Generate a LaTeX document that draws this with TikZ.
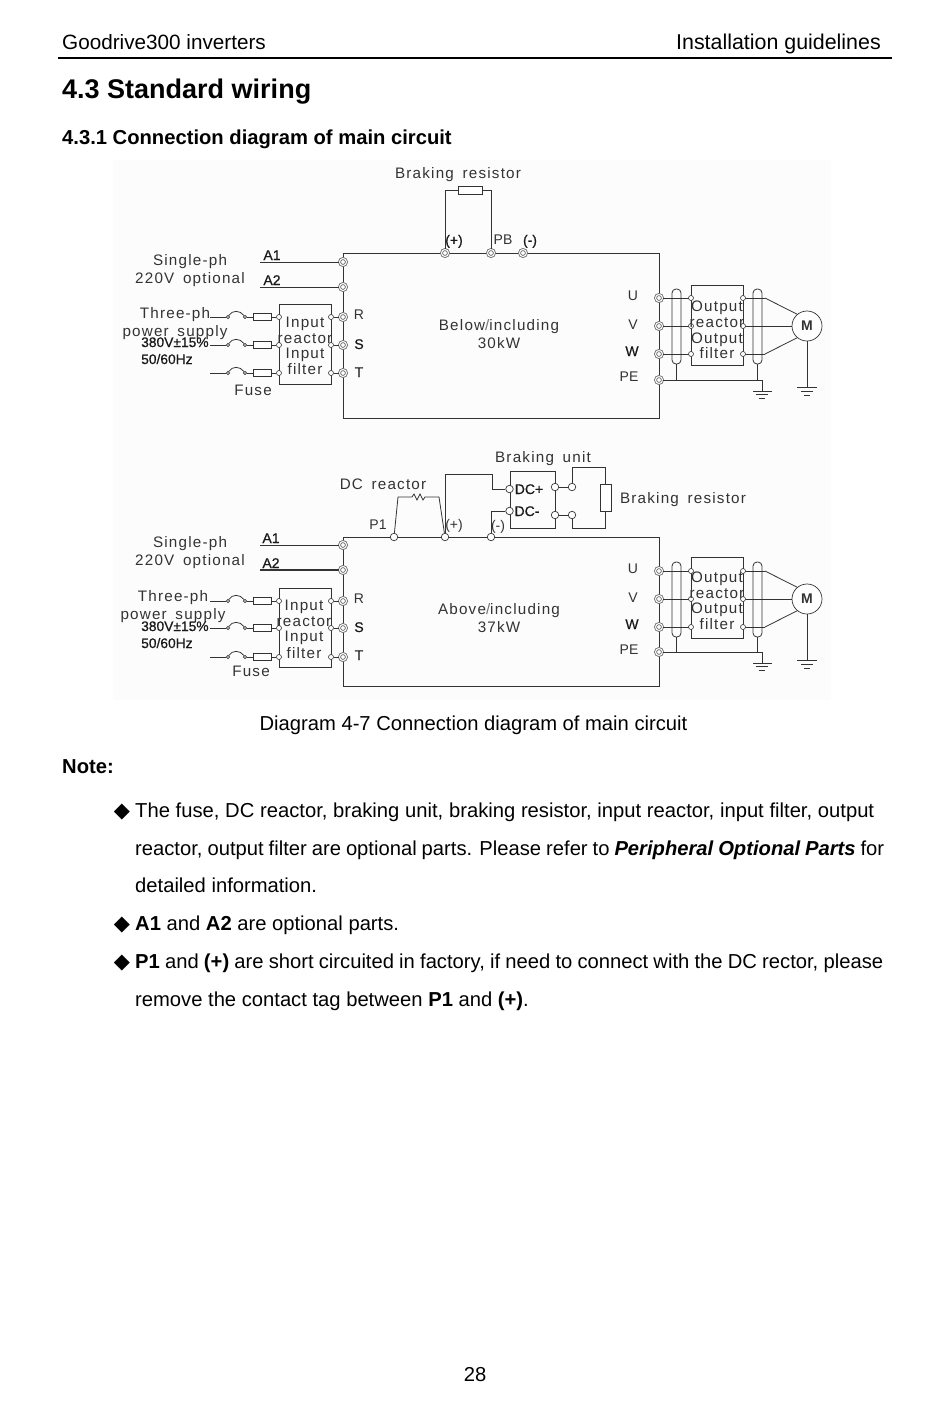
\documentclass[tikz,border=0pt]{standalone}
\usepackage{fontspec}
\setmainfont{Liberation Sans}
\newfontfamily\dgf[LetterSpace=8,WordSpace=1.6]{Liberation Sans}
\newfontfamily\fbf[FakeBold=0.6]{Liberation Sans}
\newfontfamily\symf{DejaVu Sans}
\definecolor{ink}{gray}{0.2}
\definecolor{ring}{gray}{0.45}
\tikzset{
 wire/.style={draw=ink,line width=0.8pt},
 heavy/.style={draw=ink,line width=1.2pt},
 lab/.style={inner sep=0pt,text height=10.5pt,text depth=0pt,anchor=center,text=ink,font=\dgf\fontsize{15.2}{15}\selectfont},
 slab/.style={inner sep=0pt,text height=10pt,text depth=0pt,anchor=center,text=ink,font=\fontsize{14}{14}\selectfont},
 blab/.style={inner sep=0pt,text height=10pt,text depth=0pt,anchor=center,text=black!90,font=\fbf\fontsize{14}{14}\selectfont},
 vlab/.style={inner sep=0pt,text height=10pt,text depth=0pt,anchor=west,text=black!90,font=\fbf\fontsize{13.8}{14}\selectfont},
 page/.style={inner sep=0pt,anchor=base west,text=black,font=\fontsize{20.2}{20.5}\selectfont},
 term/.style={circle,draw=ring,line width=0.9pt,fill=white,double=white,minimum size=7pt,inner sep=0pt,double distance=1pt},
 port/.style={circle,draw=ink,line width=0.6pt,fill=white,minimum size=3.2pt,inner sep=0pt},
 boxport/.style={circle,draw=ink,line width=0.6pt,fill=white,minimum size=5pt,inner sep=0pt},
 bigport/.style={circle,draw=ink,line width=0.7pt,fill=white,minimum size=7.5pt,inner sep=0pt},
 fusebody/.style={rectangle,draw=ink,line width=0.8pt,fill=white,minimum width=18pt,minimum height=7pt,inner sep=0pt},
 bx/.style={rectangle,draw=ink,line width=0.9pt,inner sep=0pt},
 motor/.style={circle,draw=ink,line width=0.7pt,fill=white,minimum size=30pt,inner sep=0pt,font=\fontsize{14}{14}\selectfont\bfseries,text=ink},
 bul/.style={page,anchor=base,font=\symf\fontsize{21}{21}\selectfont},
}
\newcommand\InputPart[6]{%
 \node[bx,minimum width=52pt,minimum height=#6pt] (ib#1) at (305,#5) {};
 \foreach \n/\y in {R/#2,S/#3,T/#4}{%
  \node[port] (fa#1\n) at (228,\y) {};
  \node[port] (fb#1\n) at (245,\y) {};
  \node[fusebody] (fr#1\n) at (262.5,\y) {};
  \node[boxport] (il#1\n) at (279,\y) {};
  \node[boxport] (ir#1\n) at (331,\y) {};
  \coordinate (s#1\n) at (210,\y);
  \draw[wire] (s#1\n) -- (fa#1\n);
  \draw[wire] (fa#1\n) .. controls +(4,-7) and +(-5,-7) .. (fb#1\n);
  \draw[wire] (fb#1\n) -- (fr#1\n);
  \draw[wire] (fr#1\n) -- (il#1\n);
  \draw[wire] (ir#1\n) -- (t#1\n);
 }%
}
\newcommand\OutputPart[9]{%
 \node[bx,minimum width=52pt,minimum height={(#7-#6)*1pt}] (ob#1) at (717,{(#6+#7)/2}) {};
 \node[motor] (m#1) at (807,#3) {M};
 \foreach \n/\y in {U/#2,V/#3,W/#4}{%
  \coordinate (j#1\n) at (765,\y);
  \draw[wire] (t#1\n) -- (691,\y);
  \draw[wire] (743,\y) -- (j#1\n);
  \node[boxport] (ol#1\n) at (691,\y) {};
  \node[boxport] (or#1\n) at (743,\y) {};
 }%
 \draw[wire] (j#1U) -- (m#1.130);
 \draw[wire] (j#1V) -- (m#1);
 \draw[wire] (j#1W) -- (m#1.230);
 \draw[wire,rounded corners=4pt] (672,#8) rectangle (681,#9);
 \draw[wire,rounded corners=4pt] (753,#8) rectangle (762,#9);
 \coordinate (gnd#1) at (762,{#5+11});
 \coordinate (pe#1) at (762,#5);
 \draw[wire] (t#1PE) -- (pe#1) -- (gnd#1);
 \draw[wire] (676.5,#9) -- (676.5,#5);
 \draw[wire] (757.5,#9) -- (757.5,#5);
 \draw[wire] (753,{#5+11}) -- (772,{#5+11});
 \draw[wire] (756,{#5+14}) -- (768,{#5+14});
 \draw[wire] (759,{#5+18}) -- (765,{#5+18});
 \coordinate (mg#1) at (807,{#3+61});
 \draw[wire] (m#1) -- (mg#1);
 \draw[wire] (797,{#3+61}) -- (817,{#3+61});
 \draw[wire] (801,{#3+65}) -- (813,{#3+65});
 \draw[wire] (804,{#3+69}) -- (810,{#3+69});
}
\begin{document}
\begin{tikzpicture}[x=1pt,y=-1pt]
\useasboundingbox (0,0) rectangle (950,1422);
\fill[white] (0,0) rectangle (950,1422);
\fill[black!1] (113,160) rectangle (831,700);
\node[page,font=\fontsize{20.7}{21}\selectfont] (hdl) at (62,49) {Goodrive300 inverters};
\node[page,anchor=base east,font=\fontsize{21.4}{21}\selectfont] (hdr) at (881,49) {Installation guidelines};
\coordinate (rl) at (58,58); \coordinate (rr) at (892,58);
\draw[black,line width=2pt] (rl) -- (rr);
\node[page,font=\fontsize{27}{28}\selectfont\bfseries] (h1) at (62,98) {4.3 Standard wiring};
\node[page,font=\fontsize{20.2}{21}\selectfont\bfseries] (h2) at (62,144) {4.3.1 Connection diagram of main circuit};
\node[page,anchor=base] (cap) at (473.5,730) {Diagram 4-7 Connection diagram of main circuit};
\node[page,font=\fontsize{20.2}{21}\selectfont\bfseries] (note) at (62,773) {Note:};
\node[bul] (b1) at (122,817.5) {◆};
\node[bul] (b2) at (122,930.5) {◆};
\node[bul] (b3) at (122,968.5) {◆};
\node[page] (l1) at (135,817) {\makebox[739pt][s]{The fuse, DC reactor, braking unit, braking resistor, input reactor, input filter, output}};
\node[page] (l2) at (135,855) {\makebox[749pt][s]{reactor, output filter are optional parts. Please refer to \textbf{\textit{Peripheral Optional Parts}} for}};
\node[page] (l3) at (135,892) {detailed information.};
\node[page] (l4) at (135,930) {\textbf{A1} and \textbf{A2} are optional parts.};
\node[page] (l5) at (135,968) {\makebox[748pt][s]{\textbf{P1} and \textbf{(+)} are short circuited in factory, if need to connect with the DC rector, please}};
\node[page] (l6) at (135,1006) {remove the contact tag between \textbf{P1} and \textbf{(+)}.};
\node[page,anchor=base] (pn) at (475,1381) {28};

\coordinate (TL) at (343,253); \coordinate (TR) at (659,253);
\coordinate (BL) at (343,418); \coordinate (BR) at (659,418);
\draw[wire,line width=1pt] (TL) -- (TR) -- (BR) -- (BL) -- cycle;
\node[term] (taA1) at (343,262) {};
\node[term] (taA2) at (343,287) {};
\node[term] (taR) at (343,317) {};
\node[term] (taS) at (343,345) {};
\node[term] (taT) at (343,373) {};
\node[term] (taP) at (445,253) {};
\node[term] (taB) at (491,253) {};
\node[term] (taN) at (523,253) {};
\node[term] (taU) at (659,298) {};
\node[term] (taV) at (659,326) {};
\node[term] (taW) at (659,354) {};
\node[term] (taPE) at (659,380) {};
\coordinate (aa1) at (260,262); \coordinate (aa2) at (260,287);
\draw[wire] (aa1) -- (taA1);
\draw[wire] (aa2) -- (taA2);
\node[fusebody,minimum width=24pt,minimum height=8pt] (brA) at (470,190) {};
\draw[wire] (taP) |- (brA);
\draw[wire] (taB) |- (brA);
\InputPart{a}{317}{345}{373}{344}{80}
\OutputPart{a}{298}{326}{354}{380}{285}{365}{289}{364}
\foreach \nm/\tx/\x/\y in {
 a1/Braking resistor/458/173,
 a2/Single-ph/190/260, a3/220V optional/190/278,
 a4/Three-ph/175/313, a5/power supply/175/331,
 a6/Fuse/253/390,
 a7/Input/305/322, a8/reactor/305/338, a9/Input/305/353, a10/filter/305/369,
 a11/Below{\color{black!55}/}including/499/325, a12/30kW/499/343,
 a13/Output/717/306, a14/reactor/717/322, a15/Output/717/338, a16/filter/717/353}
 {\node[lab] (\nm) at (\x,\y) {\tx};}
\foreach \nm/\tx/\x/\y in {
 a22/R/359/314, a26/PB/503/239, a28/U/633/295, a29/V/633/324, a31/PE/629/376}
 {\node[slab] (\nm) at (\x,\y) {\tx};}
\foreach \nm/\tx/\x/\y in {
 a20/A1/272/255, a21/A2/272/280, a23/S/359/344, a24/T/359/372,
 a25/(+)/454/240, a27/(-)/530/240, a30/W/632/351}
 {\node[blab] (\nm) at (\x,\y) {\tx};}
\node[vlab] (a32) at (141,342) {380V±15\%};
\node[vlab] (a33) at (141,359) {50/60Hz};

\coordinate (tl) at (343,537); \coordinate (tr) at (659,537);
\coordinate (bl) at (343,686); \coordinate (br) at (659,686);
\draw[wire,line width=1pt] (tl) -- (tr) -- (br) -- (bl) -- cycle;
\node[term] (tbA1) at (343,545) {};
\node[term] (tbA2) at (343,570) {};
\node[term] (tbR) at (343,601) {};
\node[term] (tbS) at (343,628) {};
\node[term] (tbT) at (343,657) {};
\node[bigport] (tP1) at (394,537) {};
\node[bigport] (tPl) at (445,537) {};
\node[bigport] (tMi) at (491,537) {};
\node[term] (tbU) at (659,571) {};
\node[term] (tbV) at (659,599) {};
\node[term] (tbW) at (659,627) {};
\node[term] (tbPE) at (659,652) {};
\coordinate (ba1) at (260,545); \coordinate (ba2) at (260,570);
\draw[wire] (ba1) -- (tbA1);
\draw[heavy] (ba2) -- (tbA2);
\InputPart{b}{601}{628}{657}{627.5}{79}
\OutputPart{b}{571}{599}{627}{652}{557}{638}{562}{637}
\draw[wire] (tP1) -- (398,497) -- (412,497) -- (414,494) -- (417,500) -- (420,494) -- (423,500) -- (425,497) -- (439,497) -- (tPl);
\node[bx,minimum width=45pt,minimum height=57pt] (bu) at (532.5,499.5) {};
\node[bigport] (dcp) at (509.5,489) {};
\node[bigport] (dcn) at (509.5,511) {};
\node[bigport] (oa) at (555,487) {};
\node[bigport] (ob) at (555,515) {};
\node[bigport] (ra) at (572,487) {};
\node[bigport] (rb) at (572,515) {};
\node[fusebody,minimum width=11pt,minimum height=27pt] (brB) at (605.5,497.5) {};
\draw[wire] (oa) -- (ra);
\draw[wire] (ob) -- (rb);
\coordinate (k1) at (445,474); \coordinate (k2) at (492,474); \coordinate (k3) at (492,489);
\draw[wire] (tPl) -- (k1) -- (k2) -- (k3) -- (dcp);
\coordinate (k4) at (491,511);
\draw[wire] (tMi) -- (k4) -- (dcn);
\coordinate (k5) at (572,467); \coordinate (k6) at (605.5,467);
\coordinate (k7) at (572,528); \coordinate (k8) at (605.5,528);
\draw[wire] (ra) -- (k5) -- (k6) -- (brB);
\draw[wire] (rb) -- (k7) -- (k8) -- (brB);
\foreach \nm/\tx/\x/\y in {
 b1a/Braking unit/543/457, b2a/DC reactor/383/484, b3a/Braking resistor/683/498,
 b4/Single-ph/190/542, b5/220V optional/190/560,
 b6/Three-ph/173/596, b7/power supply/173/614, b8/Fuse/251/671,
 b9/Input/304/605, b10/reactor/304/621, b11/Input/304/636, b12/filter/304/653,
 b13/Above{\color{black!55}/}including/499/609, b14/37kW/499/627,
 b15/Output/717/577, b16/reactor/717/593, b17/Output/717/608, b18/filter/717/624}
 {\node[lab] (\nm) at (\x,\y) {\tx};}
\foreach \nm/\tx/\x/\y in {
 b22/R/359/598, b25/P1/378/524, b26/(+)/454/524, b27/(-)/498/525,
 b30/U/633/568, b31/V/633/597, b33/PE/629/649}
 {\node[slab] (\nm) at (\x,\y) {\tx};}
\foreach \nm/\tx/\x/\y in {
 b20/A1/271/538, b21/A2/271/563, b23/S/359/627, b24/T/359/655,
 b28/DC+/529/489, b29/DC-/527/511, b32/W/632/624}
 {\node[blab] (\nm) at (\x,\y) {\tx};}
\node[vlab] (b34) at (141,626) {380V±15\%};
\node[vlab] (b35) at (141,643) {50/60Hz};
\end{tikzpicture}
\end{document}
